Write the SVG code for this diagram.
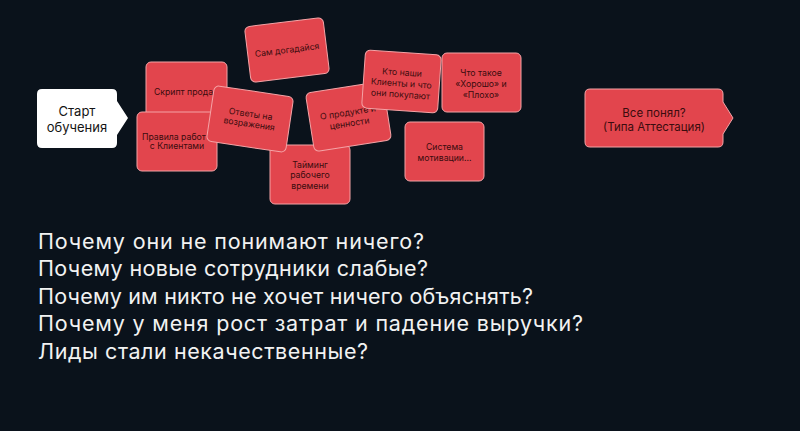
<svg xmlns="http://www.w3.org/2000/svg" width="800" height="431" viewBox="0 0 800 431">
<style>
.card{fill:#e2454d;stroke:#f4a3a6;stroke-width:1}
.ct{font-family:Inter,"Liberation Sans",sans-serif;font-size:8.7px;fill:#3a0c0e;text-anchor:middle}
.st{font-family:Inter,"Liberation Sans",sans-serif;font-size:13px;fill:#141414;text-anchor:middle}
.et{font-family:Inter,"Liberation Sans",sans-serif;font-size:11.5px;fill:#3a0c0e;text-anchor:middle}
.q{font-family:Inter,"Liberation Sans",sans-serif;font-size:21.5px;fill:#f2f2f2}
</style>
<rect width="800" height="431" fill="#0a121b"/>
<g id="connectors"></g>
<g id="start">
<path d="M42,89 H112 Q117,89 117,94 V101 L128,118 L117,135 V143 Q117,148 112,148 H42 Q37,148 37,143 V94 Q37,89 42,89 Z" fill="#ffffff"/>
<text class="st" x="77" y="116">Старт</text>
<text class="st" x="77" y="132">обучения</text>
</g>
<g id="card-sam" transform="translate(287,50) rotate(-7)">
<rect class="card" x="-39.5" y="-28" width="79" height="56" rx="5"/>
<text class="ct" x="0" y="3">Сам догадайся</text>
</g>
<g id="card-script">
<rect class="card" x="146" y="62" width="81" height="60" rx="5"/>
<text class="ct" x="154" y="95" style="text-anchor:start">Скрипт прода</text>
</g>
<g id="card-rules">
<rect class="card" x="137" y="112" width="80" height="59" rx="5"/>
<text class="ct" x="142" y="140" style="text-anchor:start">Правила работ</text>
<text class="ct" x="177" y="149">с Клиентами</text>
</g>
<g id="card-timing">
<rect class="card" x="270" y="145" width="80" height="59" rx="5"/>
<text class="ct" x="310" y="168">Тайминг</text>
<text class="ct" x="310" y="178">рабочего</text>
<text class="ct" x="310" y="189">времени</text>
</g>
<g id="card-answers" transform="translate(250,119) rotate(8.5)">
<rect class="card" x="-40" y="-28" width="80" height="56" rx="5"/>
<text class="ct" x="0" y="-2">Ответы на</text>
<text class="ct" x="0" y="8">возражения</text>
</g>
<g id="card-product" transform="translate(348.5,116.5) rotate(-8.9)">
<rect class="card" x="-39" y="-29.5" width="78" height="59" rx="5"/>
<text class="ct" x="0" y="-1">О продукте и</text>
<text class="ct" x="0" y="10">ценности</text>
</g>
<g id="card-clients" transform="translate(401.5,81.5) rotate(4)">
<rect class="card" x="-38" y="-29" width="76" height="58" rx="5"/>
<text class="ct" x="0" y="-6">Кто наши</text>
<text class="ct" x="0" y="5">Клиенты и что</text>
<text class="ct" x="0" y="16">они покупают</text>
</g>
<g id="card-good">
<rect class="card" x="442" y="53" width="79" height="59" rx="5"/>
<text class="ct" x="481" y="76">Что такое</text>
<text class="ct" x="481" y="87">«Хорошо» и</text>
<text class="ct" x="481" y="98">«Плохо»</text>
</g>
<g id="card-motivation">
<rect class="card" x="405" y="122" width="79" height="59" rx="5"/>
<text class="ct" x="444.5" y="150">Система</text>
<text class="ct" x="444.5" y="161">мотивации...</text>
</g>
<g id="end">
<path d="M590,89 H718 Q723,89 723,94 V102 L733,118 L723,134 V142 Q723,147 718,147 H590 Q585,147 585,142 V94 Q585,89 590,89 Z" class="card"/>
<text class="et" x="654" y="117">Все понял?</text>
<text class="et" x="654" y="131">(Типа Аттестация)</text>
</g>
<g id="questions">
<text class="q" x="38" y="249" textLength="386" lengthAdjust="spacing">Почему они не понимают ничего?</text>
<text class="q" x="38" y="276" textLength="390" lengthAdjust="spacing">Почему новые сотрудники слабые?</text>
<text class="q" x="38" y="304" textLength="495" lengthAdjust="spacing">Почему им никто не хочет ничего объяснять?</text>
<text class="q" x="38" y="331" textLength="545" lengthAdjust="spacing">Почему у меня рост затрат и падение выручки?</text>
<text class="q" x="38" y="359" textLength="330" lengthAdjust="spacing">Лиды стали некачественные?</text>
</g>
</svg>
